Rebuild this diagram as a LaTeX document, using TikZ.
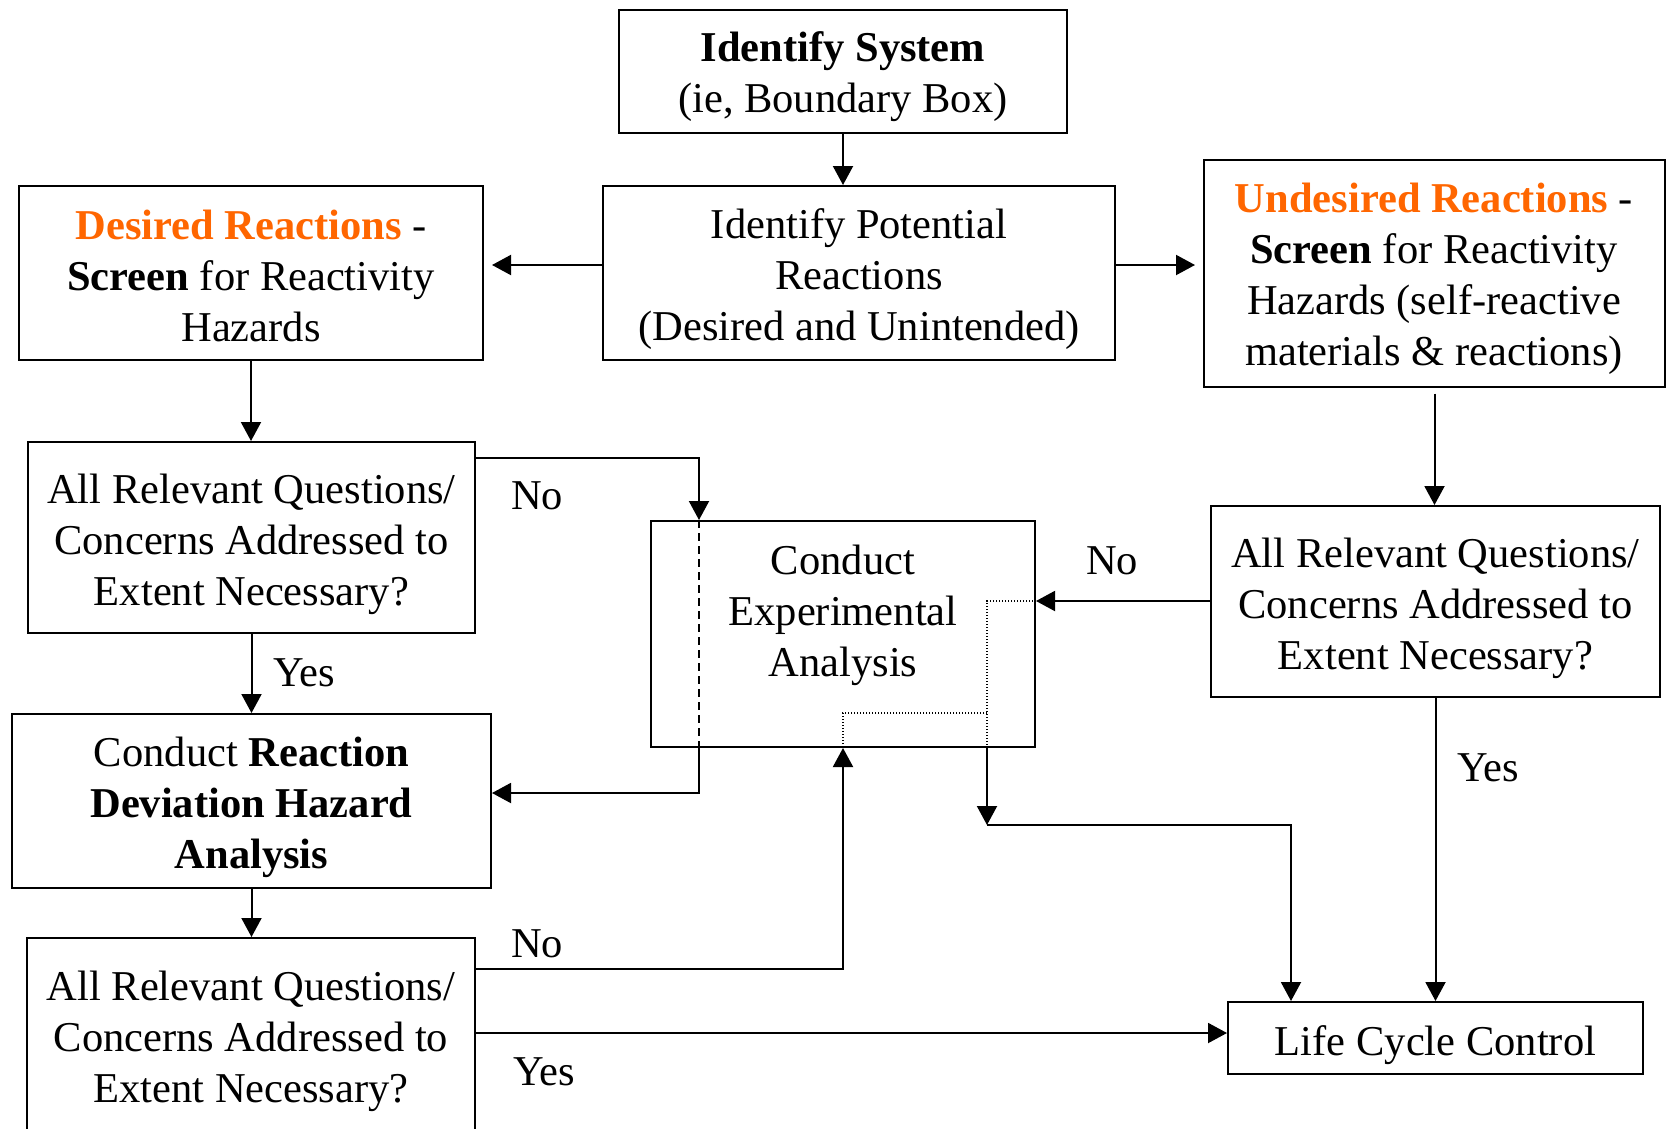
\documentclass[tikz,border=0pt]{standalone}
\usepackage{fontspec}
\setmainfont{Liberation Serif}
\usetikzlibrary{arrows.meta,calc}
\definecolor{orng}{RGB}{255,102,0}
\begin{document}
\begin{tikzpicture}[x=1pt,y=-1pt,
 box/.style={draw,line width=2pt,inner sep=0pt},
 lbl/.style={inner sep=0pt,align=center,font=\fontsize{42.5}{51}\selectfont},
 arr/.style={line width=2pt,-{Triangle[length=19pt,width=20pt]}},
 ln/.style={line width=2pt},
 dashln/.style={line width=2pt,dash pattern=on 8pt off 5pt},
 dotln/.style={line width=1.4pt,dash pattern=on 1.4pt off 1.6pt}]
\useasboundingbox (0,0) rectangle (1666,1128);
\clip (0,0) rectangle (1666,1128);
\fill[white] (0,0) rectangle (1666,1128);
% boxes
\node[box,minimum width=448pt,minimum height=123pt] (sys) at (843,71.5) {};
\node[lbl] (sysT) at (843,77) {\textbf{Identify System}\\(ie, Boundary Box)};
\node[box,minimum width=512pt,minimum height=174pt] (ipr) at (859,273) {};
\node[lbl] (iprT) at (859,279) {Identify Potential\\Reactions\\(Desired and Unintended)};
\node[box,minimum width=464pt,minimum height=174pt] (des) at (251,273) {};
\node[lbl] (desT) at (251,276) {{\color{orng}\textbf{Desired Reactions}} -\\\textbf{Screen} for Reactivity\\Hazards};
\node[box,minimum width=461pt,minimum height=227pt] (und) at (1434.5,273) {};
\node[lbl] (undT) at (1434,279) {{\color{orng}\textbf{Undesired Reactions}} -\\\textbf{Screen} for Reactivity\\Hazards (self-reactive\\materials \& reactions)};
\node[box,minimum width=447pt,minimum height=191pt] (q1) at (251.5,537.5) {};
\node[lbl] (q1T) at (251.5,544) {All Relevant Questions/\\Concerns Addressed to\\Extent Necessary?};
\node[box,minimum width=384pt,minimum height=226pt] (exp) at (843,634) {};
\node[lbl] (expT) at (843,615) {Conduct\\Experimental\\Analysis};
\node[box,minimum width=449pt,minimum height=191pt] (q2) at (1435.5,601.5) {};
\node[lbl] (q2T) at (1435.5,608) {All Relevant Questions/\\Concerns Addressed to\\Extent Necessary?};
\node[box,minimum width=479pt,minimum height=174pt] (rd) at (251.5,801) {};
\node[lbl] (rdT) at (251.5,807) {Conduct \textbf{Reaction}\\\textbf{Deviation Hazard}\\\textbf{Analysis}};
\node[box,minimum width=448pt,minimum height=196pt] (q3) at (251,1036) {};
\node[lbl] (q3T) at (251,1041) {All Relevant Questions/\\Concerns Addressed to\\Extent Necessary?};
\node[box,minimum width=415pt,minimum height=72pt] (lcc) at (1435.5,1038) {};
\node[lbl] (lccT) at (1435.5,1045) {Life Cycle Control};
% coordinates
\coordinate (yA) at (0,265);
\coordinate (cA) at (699,458);
\coordinate (cB) at (699,793);
\coordinate (yC) at (0,601);
\coordinate (cD) at (987,601);
\coordinate (cE) at (987,713);
\coordinate (cF) at (843,713);
\coordinate (cG) at (987,825);
\coordinate (cH) at (1291,825);
\coordinate (yI) at (0,969);
\coordinate (cI) at (843,969);
\coordinate (yJ) at (0,1033);
% connectors
\draw[arr] (sys.south) -- (sys.south |- ipr.north);
\draw[arr,shorten >=8pt] (ipr.west |- yA) -- (des.east |- yA);
\draw[arr,shorten >=8pt] (ipr.east |- yA) -- (und.west |- yA);
\draw[arr] (des.south) -- (des.south |- q1.north);
\draw[arr,shorten <=6pt] (und.south) -- (und.south |- q2.north);
\draw[arr] (q1.south) -- (q1.south |- rd.north);
\draw[arr] (rd.south) -- (rd.south |- q3.north);
\draw[arr] (q2.south) -- (q2.south |- lcc.north);
\draw[arr] (q1.east |- cA) -- (cA) -- (cA |- exp.north);
\draw[dashln] (cA |- exp.north) -- (cA |- exp.south);
\draw[arr] (cA |- exp.south) -- (cB) -- (rd.east |- cB);
\draw[arr] (q2.west |- yC) -- (exp.east |- yC);
\draw[dotln] (exp.east |- yC) -- (cD) -- (cD |- exp.south);
\draw[dotln] (cE) -- (cF) -- (cF |- exp.south);
\draw[arr] (cD |- exp.south) -- (cG);
\draw[arr] (cG) -- (cH) -- (cH |- lcc.north);
\draw[arr] (q3.east |- yI) -- (cI) -- (cI |- exp.south);
\draw[arr] (q3.east |- yJ) -- (lcc.west |- yJ);
% labels
\node[lbl] (no1) at (537,496) {No};
\node[lbl] (yes1) at (304,673) {Yes};
\node[lbl] (no2) at (1112,561) {No};
\node[lbl] (yes2) at (1488,768) {Yes};
\node[lbl] (no3) at (537,944) {No};
\node[lbl] (yes3) at (544,1072) {Yes};
\end{tikzpicture}
\end{document}
